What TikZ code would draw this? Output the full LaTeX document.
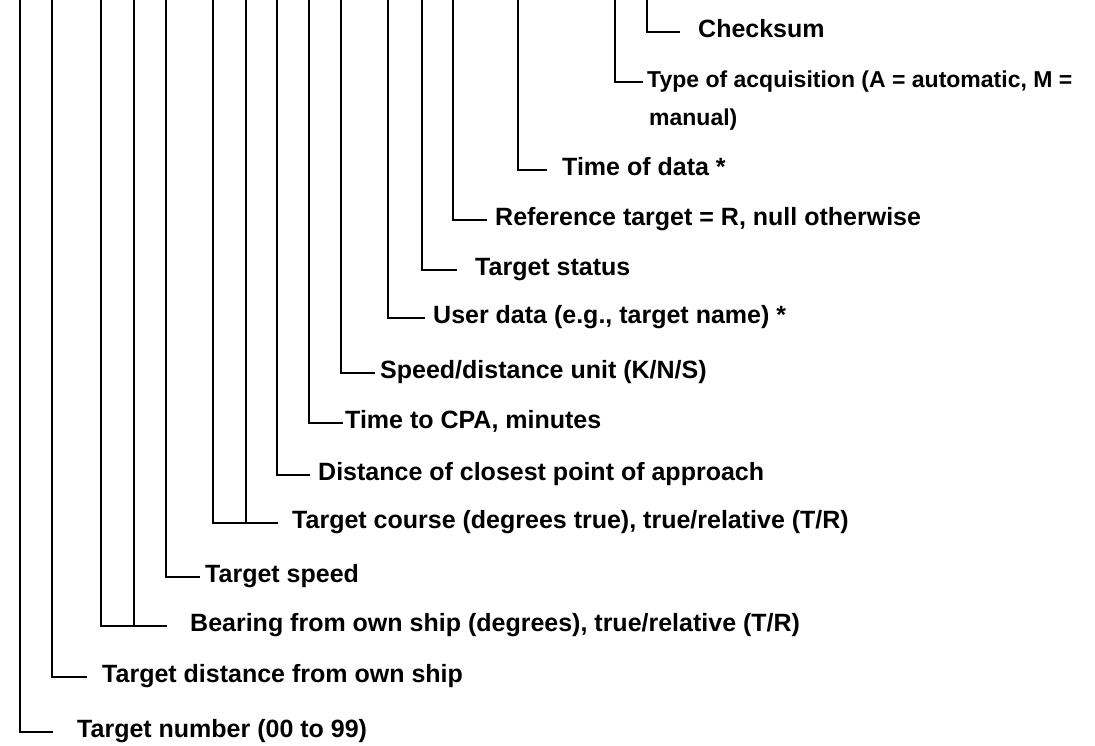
\documentclass[tikz,border=0pt]{standalone}
\usepackage{fontspec}
\setmainfont{Liberation Sans}
\begin{document}
\begin{tikzpicture}[x=1pt,y=-1pt,
  lab/.style={anchor=west, inner xsep=0pt, inner ysep=0pt, text height=17.9pt, text depth=6pt, font=\fontsize{25}{29}\selectfont\bfseries},
  tight/.style={font=\fontsize{23}{27}\selectfont\bfseries, text height=16.5pt, text depth=5pt},
  lead/.style={line width=2.6pt}]
\useasboundingbox (0,0) rectangle (1095,746);
% labels
\node[lab] (cs)  at (698,32)  {Checksum};
\node[lab,tight] (ta)  at (647,82)  {Type of acquisition (A = automatic, M =};
\node[lab,tight] (ta2) at (649,120) {manual)};
\node[lab] (td)  at (562,170) {Time of data *};
\node[lab] (rt)  at (495,220) {Reference target = R, null otherwise};
\node[lab] (ts)  at (475,270) {Target status};
\node[lab] (ud)  at (433,318) {User data (e.g., target name) *};
\node[lab] (su)  at (380,373) {Speed/distance unit (K/N/S)};
\node[lab] (tc)  at (345,423) {Time to CPA, minutes};
\node[lab] (dc)  at (318,475) {Distance of closest point of approach};
\node[lab] (co)  at (292,523) {Target course (degrees true), true/relative (T/R)};
\node[lab] (sp)  at (205,577) {Target speed};
\node[lab] (br)  at (190,626) {Bearing from own ship (degrees), true/relative (T/R)};
\node[lab] (di)  at (102,677) {Target distance from own ship};
\node[lab] (tn)  at (77,732)  {Target number (00 to 99)};
% top ends of the leaders
\foreach \n/\x in {a/20,b/52,c/101,d/134,e/166,f/213,g/246,h/277,i/309,j/341,k/388,l/422,m/453,n/518,o/615,p/647}
  \coordinate (v\n) at (\x,-3);
% leaders
\draw[lead] (vp) |- ([xshift=-18pt]cs.west);
\draw[lead] (vo) |- ([xshift=-4pt]ta.west);
\draw[lead] (vn) |- ([xshift=-15pt]td.west);
\draw[lead] (vm) |- ([xshift=-8pt]rt.west);
\draw[lead] (vl) |- ([xshift=-18pt]ts.west);
\draw[lead] (vk) |- ([xshift=-8pt]ud.west);
\draw[lead] (vj) |- ([xshift=-5pt]su.west);
\draw[lead] (vi) |- ([xshift=-2pt]tc.west);
\draw[lead] (vh) |- ([xshift=-8pt]dc.west);
\draw[lead] (vf) |- ([xshift=-14pt]co.west);
\draw[lead] (vg) -- (vg |- co.west);
\draw[lead] (ve) |- ([xshift=-5pt]sp.west);
\draw[lead] (vc) |- ([xshift=-23pt]br.west);
\draw[lead] (vd) -- (vd |- br.west);
\draw[lead] (vb) |- ([xshift=-15pt]di.west);
\draw[lead] (va) |- ([xshift=-24pt]tn.west);
\end{tikzpicture}
\end{document}
